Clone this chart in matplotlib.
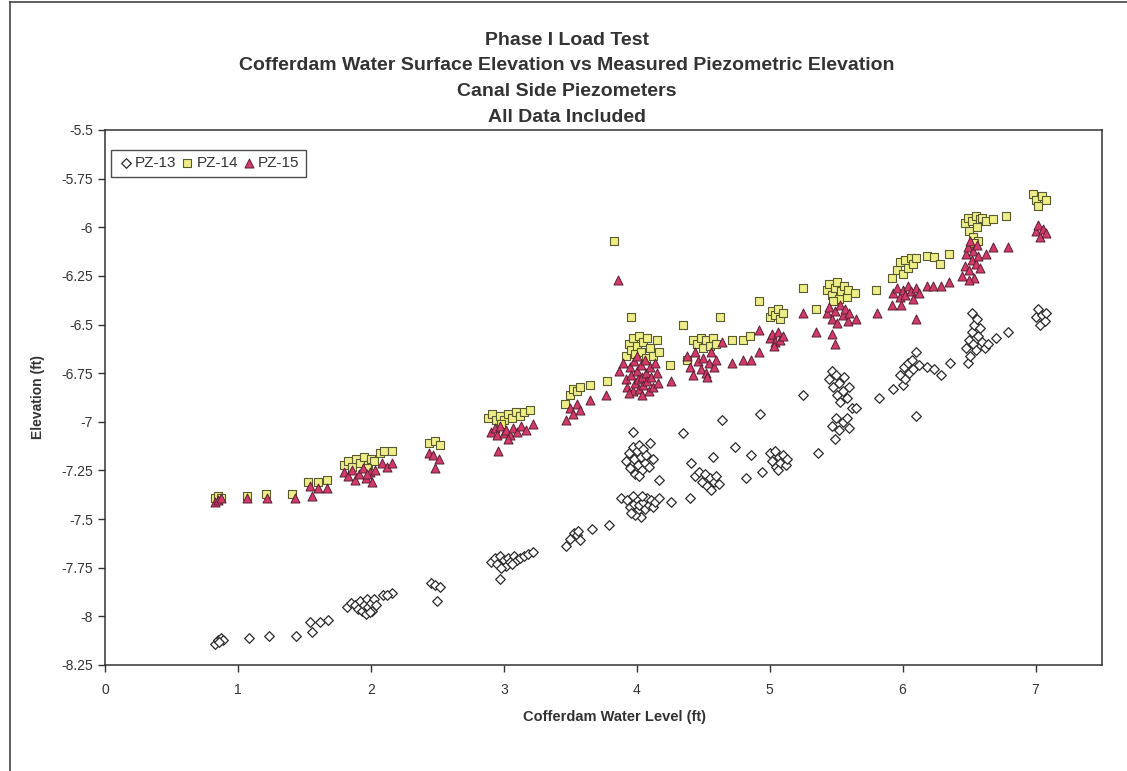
import matplotlib
matplotlib.use("Agg")
import matplotlib.pyplot as plt
from matplotlib.lines import Line2D

# values: (water level ft, elevation ft)
pz13 = [(0.83, -8.14), (0.85, -8.12), (0.87, -8.11), (0.89, -8.12), (0.86, -8.13),
        (1.08, -8.11), (1.23, -8.10), (1.44, -8.10),
        (1.54, -8.03), (1.56, -8.08), (1.62, -8.03), (1.68, -8.02),
        (1.82, -7.95), (1.85, -7.93), (1.88, -7.94), (1.90, -7.96), (1.92, -7.92), (1.93, -7.97),
        (1.95, -7.94), (1.96, -7.99), (1.97, -7.91), (1.98, -7.95), (2.00, -7.93), (2.01, -7.97),
        (2.02, -7.91), (2.04, -7.94), (1.99, -7.98), (2.09, -7.89), (2.16, -7.88), (2.12, -7.89),
        (2.45, -7.83), (2.48, -7.84), (2.52, -7.85), (2.50, -7.92),
        (2.90, -7.72), (2.93, -7.70), (2.95, -7.73), (2.97, -7.69), (3.00, -7.71), (3.02, -7.74),
        (3.03, -7.70), (3.05, -7.72), (3.08, -7.69), (3.10, -7.71), (3.12, -7.70), (3.15, -7.69),
        (3.18, -7.68), (3.22, -7.67), (2.98, -7.75), (2.97, -7.81), (3.06, -7.73),
        (3.47, -7.64), (3.50, -7.60), (3.53, -7.57), (3.55, -7.58), (3.57, -7.61), (3.56, -7.56),
        (3.66, -7.55), (3.79, -7.53),
        (3.88, -7.39), (3.93, -7.40), (3.95, -7.44), (3.97, -7.38), (3.98, -7.42), (4.00, -7.46),
        (4.01, -7.40), (4.02, -7.43), (4.03, -7.49), (4.05, -7.41), (4.06, -7.45), (4.08, -7.39),
        (4.09, -7.43), (4.11, -7.40), (4.12, -7.44), (3.99, -7.48), (3.96, -7.47), (4.04, -7.38),
        (4.14, -7.41), (4.17, -7.39), (4.26, -7.41), (4.40, -7.39),
        (3.92, -7.20), (3.94, -7.16), (3.95, -7.24), (3.97, -7.13), (3.98, -7.19), (3.99, -7.27),
        (4.00, -7.15), (4.01, -7.22), (4.02, -7.12), (4.03, -7.18), (4.04, -7.25), (4.05, -7.14),
        (4.06, -7.21), (4.07, -7.17), (4.09, -7.23), (4.10, -7.11), (4.12, -7.19), (4.02, -7.28),
        (4.17, -7.30), (3.97, -7.05),
        (4.35, -7.06), (4.41, -7.21), (4.44, -7.28), (4.47, -7.26), (4.49, -7.31), (4.51, -7.27),
        (4.53, -7.33), (4.55, -7.29), (4.56, -7.35), (4.58, -7.31), (4.60, -7.28), (4.62, -7.32),
        (4.57, -7.18), (4.64, -6.99),
        (4.74, -7.13), (4.86, -7.17), (4.82, -7.29), (4.94, -7.26), (4.93, -6.96),
        (5.00, -7.16), (5.02, -7.20), (5.04, -7.15), (5.05, -7.23), (5.07, -7.18), (5.08, -7.21),
        (5.10, -7.17), (5.12, -7.22), (5.13, -7.19), (5.06, -7.25),
        (5.25, -6.86), (5.36, -7.16),
        (5.45, -6.78), (5.47, -6.74), (5.48, -6.82), (5.50, -6.76), (5.51, -6.86), (5.52, -6.80),
        (5.53, -6.90), (5.55, -6.84), (5.56, -6.77), (5.58, -6.88), (5.60, -6.82), (5.62, -6.93),
        (5.65, -6.93), (5.47, -7.02), (5.50, -6.98), (5.52, -7.04), (5.55, -7.00), (5.58, -6.98),
        (5.60, -7.03), (5.49, -7.09),
        (5.82, -6.88),
        (5.93, -6.83), (5.98, -6.76), (6.00, -6.81), (6.01, -6.72), (6.02, -6.78), (6.04, -6.70),
        (6.05, -6.75), (6.07, -6.68), (6.08, -6.73), (6.10, -6.64), (6.12, -6.71), (6.10, -6.97),
        (6.18, -6.72), (6.24, -6.73), (6.29, -6.76), (6.36, -6.70), (6.49, -6.70),
        (6.48, -6.62), (6.50, -6.58), (6.51, -6.66), (6.52, -6.54), (6.53, -6.60), (6.54, -6.50),
        (6.55, -6.63), (6.56, -6.47), (6.57, -6.56), (6.58, -6.52), (6.60, -6.59), (6.62, -6.62),
        (6.52, -6.44),
        (6.64, -6.60), (6.70, -6.57), (6.79, -6.54),
        (7.00, -6.46), (7.02, -6.42), (7.03, -6.50), (7.05, -6.45), (7.07, -6.48), (7.08, -6.44)]

pz14 = [(0.83, -7.39), (0.85, -7.38), (0.87, -7.39),
        (1.07, -7.38), (1.21, -7.37), (1.41, -7.37),
        (1.53, -7.31), (1.60, -7.31), (1.67, -7.30),
        (1.80, -7.22), (1.83, -7.20), (1.86, -7.23), (1.89, -7.19), (1.92, -7.21), (1.95, -7.18),
        (1.98, -7.22), (2.00, -7.19), (2.02, -7.20), (1.97, -7.24), (2.07, -7.16), (2.10, -7.15),
        (2.16, -7.15),
        (2.44, -7.11), (2.48, -7.10), (2.52, -7.12),
        (2.88, -6.98), (2.91, -6.96), (2.94, -6.99), (2.97, -6.97), (3.00, -6.99), (3.03, -6.96),
        (3.06, -6.98), (3.09, -6.95), (3.12, -6.97), (3.15, -6.95), (3.20, -6.94), (2.98, -7.01),
        (3.46, -6.91), (3.50, -6.86), (3.52, -6.83), (3.55, -6.84), (3.57, -6.82), (3.65, -6.81),
        (3.78, -6.79),
        (3.83, -6.07),
        (3.92, -6.66), (3.94, -6.60), (3.96, -6.63), (3.97, -6.57), (3.99, -6.65), (4.00, -6.61),
        (4.02, -6.56), (4.03, -6.64), (4.05, -6.59), (4.07, -6.67), (4.08, -6.57), (4.10, -6.62),
        (4.12, -6.66), (4.15, -6.58), (4.17, -6.64), (3.96, -6.46), (4.25, -6.71),
        (4.35, -6.50),
        (4.38, -6.68), (4.42, -6.58), (4.45, -6.60), (4.48, -6.57), (4.50, -6.62), (4.52, -6.58),
        (4.55, -6.61), (4.57, -6.57), (4.60, -6.60),
        (4.63, -6.46), (4.72, -6.58), (4.80, -6.58), (4.85, -6.56), (4.92, -6.38),
        (5.00, -6.46), (5.02, -6.43), (5.04, -6.45), (5.06, -6.42), (5.08, -6.47), (5.10, -6.44),
        (5.25, -6.31), (5.35, -6.42),
        (5.43, -6.32), (5.45, -6.29), (5.47, -6.35), (5.49, -6.31), (5.51, -6.28), (5.52, -6.37),
        (5.54, -6.33), (5.56, -6.30), (5.58, -6.36), (5.59, -6.32), (5.64, -6.34), (5.48, -6.38),
        (5.80, -6.32), (5.92, -6.26),
        (5.96, -6.22), (5.98, -6.18), (6.00, -6.24), (6.02, -6.17), (6.04, -6.21), (6.06, -6.16),
        (6.08, -6.19), (6.10, -6.16),
        (6.18, -6.15), (6.24, -6.155), (6.28, -6.19), (6.35, -6.14),
        (6.47, -5.98), (6.49, -5.95), (6.50, -6.02), (6.52, -5.97), (6.53, -6.05), (6.55, -5.94),
        (6.56, -6.00), (6.57, -6.07), (6.58, -5.96), (6.60, -5.95), (6.54, -6.08),
        (6.63, -5.97), (6.68, -5.96), (6.78, -5.94),
        (6.98, -5.83), (7.00, -5.86), (7.02, -5.89), (7.05, -5.84), (7.08, -5.86)]

pz15 = [(0.83, -7.41), (0.85, -7.40), (0.87, -7.39),
        (1.07, -7.39), (1.22, -7.39), (1.43, -7.39),
        (1.54, -7.33), (1.56, -7.38), (1.60, -7.34), (1.67, -7.34),
        (1.80, -7.26), (1.83, -7.28), (1.86, -7.25), (1.88, -7.30), (1.91, -7.27), (1.94, -7.24),
        (1.96, -7.29), (1.99, -7.26), (2.01, -7.31), (2.03, -7.25), (1.97, -7.27), (2.08, -7.21),
        (2.12, -7.23), (2.16, -7.21),
        (2.44, -7.16), (2.47, -7.17), (2.51, -7.19), (2.48, -7.24),
        (2.90, -7.05), (2.93, -7.03), (2.95, -7.07), (2.97, -7.02), (3.00, -7.06), (3.02, -7.04),
        (3.05, -7.07), (3.07, -7.03), (3.10, -7.05), (3.13, -7.02), (3.17, -7.04), (3.22, -7.01),
        (2.96, -7.15), (3.03, -7.09),
        (3.47, -6.99), (3.50, -6.93), (3.52, -6.96), (3.55, -6.91), (3.57, -6.94), (3.65, -6.89),
        (3.77, -6.86),
        (3.86, -6.27),
        (3.87, -6.74), (3.90, -6.70), (3.92, -6.78), (3.93, -6.82), (3.95, -6.72), (3.96, -6.76),
        (3.97, -6.84), (3.98, -6.69), (3.99, -6.80), (4.00, -6.74), (4.01, -6.78), (4.02, -6.83),
        (4.03, -6.71), (4.04, -6.77), (4.05, -6.81), (4.06, -6.68), (4.07, -6.75), (4.08, -6.79),
        (4.09, -6.84), (4.10, -6.72), (4.11, -6.77), (4.12, -6.82), (4.14, -6.70), (4.15, -6.75),
        (4.16, -6.80), (3.94, -6.85), (4.00, -6.66), (4.04, -6.86), (4.26, -6.79),
        (4.38, -6.66), (4.40, -6.72), (4.42, -6.76), (4.44, -6.64), (4.46, -6.69), (4.48, -6.73),
        (4.50, -6.67), (4.52, -6.75), (4.54, -6.70), (4.56, -6.64), (4.58, -6.72), (4.60, -6.68),
        (4.53, -6.77),
        (4.64, -6.59), (4.72, -6.70), (4.80, -6.68), (4.86, -6.68), (4.92, -6.53), (4.92, -6.64),
        (5.00, -6.57), (5.02, -6.55), (5.04, -6.59), (5.06, -6.54), (5.08, -6.58), (5.10, -6.56),
        (5.03, -6.61),
        (5.25, -6.44), (5.35, -6.54),
        (5.43, -6.44), (5.45, -6.41), (5.47, -6.47), (5.49, -6.43), (5.51, -6.49), (5.53, -6.40),
        (5.55, -6.45), (5.57, -6.42), (5.59, -6.48), (5.60, -6.44), (5.47, -6.55), (5.49, -6.60),
        (5.65, -6.47), (5.81, -6.44), (5.92, -6.40), (5.99, -6.40), (6.10, -6.47),
        (5.93, -6.34), (5.96, -6.31), (5.98, -6.36), (6.00, -6.32), (6.02, -6.35), (6.04, -6.30),
        (6.06, -6.33), (6.08, -6.37), (6.10, -6.31), (6.12, -6.34),
        (6.18, -6.30), (6.23, -6.30), (6.29, -6.30), (6.35, -6.28),
        (6.45, -6.25), (6.47, -6.20), (6.48, -6.14), (6.49, -6.10), (6.50, -6.22), (6.51, -6.07),
        (6.52, -6.17), (6.53, -6.12), (6.54, -6.26), (6.55, -6.19), (6.56, -6.09), (6.57, -6.15),
        (6.58, -6.21), (6.50, -6.27),
        (6.63, -6.14), (6.68, -6.10), (6.79, -6.10),
        (7.00, -6.02), (7.02, -5.99), (7.03, -6.05), (7.06, -6.01), (7.08, -6.03)]

series_names = ["PZ-13", "PZ-14", "PZ-15"]
y_ticks = [-5.5, -5.75, -6, -6.25, -6.5, -6.75, -7, -7.25, -7.5, -7.75, -8, -8.25]
y_tick_labels = ["-5.5", "-5.75", "-6", "-6.25", "-6.5", "-6.75", "-7", "-7.25",
                 "-7.5", "-7.75", "-8", "-8.25"]
x_ticks = [0, 1, 2, 3, 4, 5, 6, 7]
title_lines = ["Phase I Load Test",
               "Cofferdam Water Surface Elevation vs Measured Piezometric Elevation",
               "Canal Side Piezometers",
               "All Data Included"]

plt.rcParams['font.family'] = ['Liberation Sans', 'DejaVu Sans']
text_col = '#333333'

fig = plt.figure(figsize=(11.27, 7.71), dpi=100)
ax = fig.add_axes([0.0932, 0.1375, 0.8846, 0.6939])

# outer chart frame from the scan (top and left edge)
fig.add_artist(Line2D([0.009, 1.0], [0.998, 0.998], color='#444444', lw=1.2))
fig.add_artist(Line2D([0.009, 0.009], [0.0, 0.998], color='#444444', lw=1.2))

styles = [
    dict(marker='D', s=24, facecolors='white', edgecolors='#2a2a2a', linewidths=0.9),
    dict(marker='s', s=38, facecolors='#eeee88', edgecolors='#5a5a30', linewidths=0.8),
    dict(marker='^', s=42, facecolors='#d23a68', edgecolors='#5a2035', linewidths=0.7),
]
for name, pts, st in zip(series_names, [pz13, pz14, pz15], styles):
    xs, ys = zip(*pts)
    ax.scatter(xs, ys, label=name, zorder=3, **st)

ax.set_xlim(0, 7.5)
ax.set_ylim(-8.25, -5.5)
ax.set_xticks(x_ticks)
ax.set_yticks(y_ticks)
ax.set_yticklabels(y_tick_labels)
ax.tick_params(direction='out', length=5, width=1, colors='#333333',
               labelsize=10, labelcolor=text_col)
ax.tick_params(axis='x', pad=8)
for sp in ax.spines.values():
    sp.set_color('#333333')
    sp.set_linewidth(1.1)

ax.set_xlabel("Cofferdam Water Level (ft)", fontsize=10.5, fontweight='bold',
              color=text_col, labelpad=8)
ax.xaxis.set_label_coords(0.511, -0.085)
ax.set_ylabel("Elevation (ft)", fontsize=10, fontweight='bold', color=text_col,
              labelpad=12)

for i, line in enumerate(title_lines):
    fig.text(0.503, 0.948 - i * 0.0335, line, ha='center', va='center',
             fontsize=14, fontweight='bold', color=text_col)

leg = ax.legend(loc='upper left', bbox_to_anchor=(0.001, 0.972), ncol=3,
                frameon=True, fancybox=False, edgecolor='#222222', fontsize=11,
                handletextpad=0.05, columnspacing=0.15, borderpad=0.45,
                handlelength=1.1, borderaxespad=0.3, labelcolor=text_col)
leg.get_frame().set_linewidth(1.0)

fig.savefig("out.png", dpi=100, facecolor='white')
